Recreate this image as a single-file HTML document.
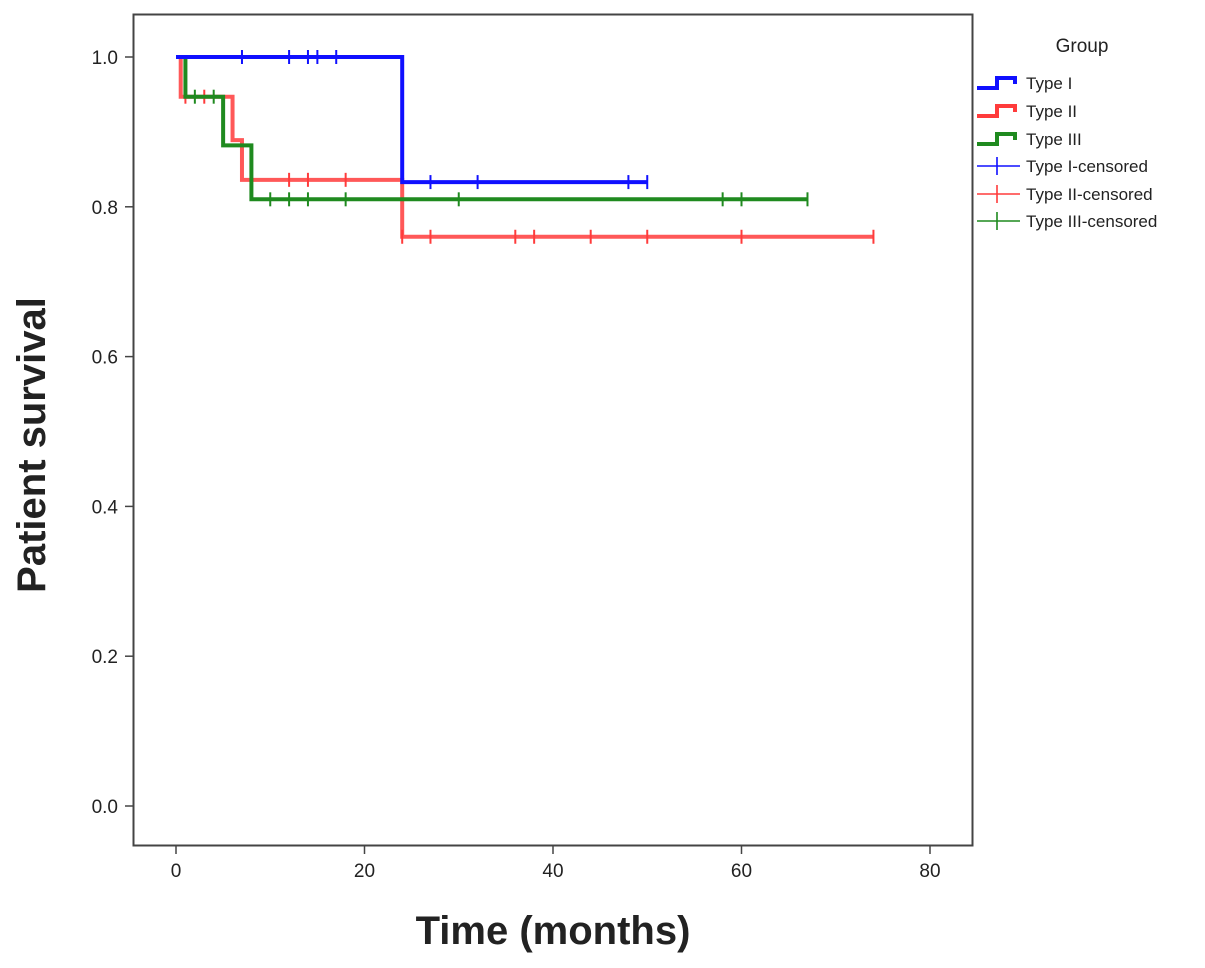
<!DOCTYPE html>
<html><head><meta charset="utf-8"><style>
body{margin:0;background:#fff;}
svg text{font-family:"Liberation Sans",Arial,sans-serif;fill:#222;}
</style></head><body>
<svg id="c" width="1205" height="963" xmlns="http://www.w3.org/2000/svg">
<rect x="0" y="0" width="1205" height="963" fill="#fff"/>
<g id="plot"></g>
<rect x="133.5" y="14.5" width="839" height="831" fill="none" stroke="#444" stroke-width="2"/>
<g id="axes"></g>
<text x="45" y="445" font-size="40" font-weight="bold" text-anchor="middle" transform="rotate(-90 45 445)">Patient survival</text>
<text x="553" y="944" font-size="40" font-weight="bold" text-anchor="middle">Time (months)</text>
<g>
<text x="1082" y="52" font-size="19" text-anchor="middle">Group</text>
<g id="leg"></g>
</g>
</svg>
<script>
const xTicks=[0,20,40,60,80];
const yTicks=[0.0,0.2,0.4,0.6,0.8,1.0];
const yTickLabels=["0.0","0.2","0.4","0.6","0.8","1.0"];
const seriesNames=["Type I","Type II","Type III"];
const seriesColors=["#1010ff","#ff3b3b","#1f8a1f"];
const type1Times=[0,24];
const type1Surv=[1.0,0.833];
const type1End=50;
const type1Censor=[7,12,14,15,17,27,32,48,50];
const type2Times=[0,0.5,6,7,24];
const type2Surv=[1.0,0.947,0.889,0.836,0.76];
const type2End=74;
const type2Censor=[1,3,12,14,18,24,27,36,38,44,50,60,74];
const type3Times=[0,1,5,8];
const type3Surv=[1.0,0.947,0.882,0.81];
const type3End=67;
const type3Censor=[2,4,10,12,14,18,30,58,60,67];

const NS="http://www.w3.org/2000/svg";
function X(t){return 176+t*(930-176)/80;}
function Y(s){return 806-s*(806-57);}
function mk(tag,attrs,parent){const e=document.createElementNS(NS,tag);for(const k in attrs)e.setAttribute(k,attrs[k]);parent.appendChild(e);return e;}
const axes=document.getElementById('axes'),plot=document.getElementById('plot'),leg=document.getElementById('leg');
xTicks.forEach(t=>{
 const l=mk('line',{x1:X(t),x2:X(t),y1:846,y2:854,stroke:'#444','stroke-width':1.5},axes);
 
 
 const tx=mk('text',{x:X(t),y:877,'font-size':19,'text-anchor':'middle'},axes);tx.textContent=t;
 
 
});
yTicks.forEach((v,i)=>{
 const l=mk('line',{x1:125,x2:133,y1:Y(v),y2:Y(v),stroke:'#444','stroke-width':1.5},axes);
 
 
 const tx=mk('text',{x:118,y:Y(v)+7,'font-size':19,'text-anchor':'end'},axes);tx.textContent=yTickLabels[i];
 
 
});
const series=[[type1Times,type1Surv,type1End,type1Censor],[type2Times,type2Surv,type2End,type2Censor],[type3Times,type3Surv,type3End,type3Censor]];
function survAt(times,surv,t){let s=surv[0];for(let i=0;i<times.length;i++)if(times[i]<=t)s=surv[i];return s;}
[1,2,0].forEach(k=>{
 const [times,surv,end,cens]=series[k];
 let d='M'+X(times[0])+','+Y(surv[0]);
 for(let i=1;i<times.length;i++){d+=' H'+X(times[i])+' V'+Y(surv[i]);}
 d+=' H'+X(end);
 const p=mk('path',{d:d,fill:'none',stroke:seriesColors[k],'stroke-width':4,opacity:k==1?0.85:1},plot);
 
 
 cens.forEach(t=>{
  const y=Y(survAt(times,surv,t));
  const c=mk('line',{x1:X(t),x2:X(t),y1:y-7,y2:y+7,stroke:seriesColors[k],'stroke-width':2},plot);
  
  
 });
});
const legY=[83,111,139,166,194,221];
for(let i=0;i<6;i++){
 const col=seriesColors[i%3],y=legY[i];
 let e;
 if(i<3){e=mk('path',{d:`M977,${y+5} H997 V${y-5} H1015 V${y+1}`,fill:'none',stroke:col,'stroke-width':4},leg);}
 else{e=mk('path',{d:`M977,${y} H1020 M997,${y-9} V${y+9}`,fill:'none',stroke:col,'stroke-width':1.6},leg);}
 
 
 const tx=mk('text',{x:1026,y:y+6,'font-size':17},leg);
 tx.textContent=seriesNames[i%3]+(i>=3?'-censored':'');
 
 
}
</script>
</body></html>
